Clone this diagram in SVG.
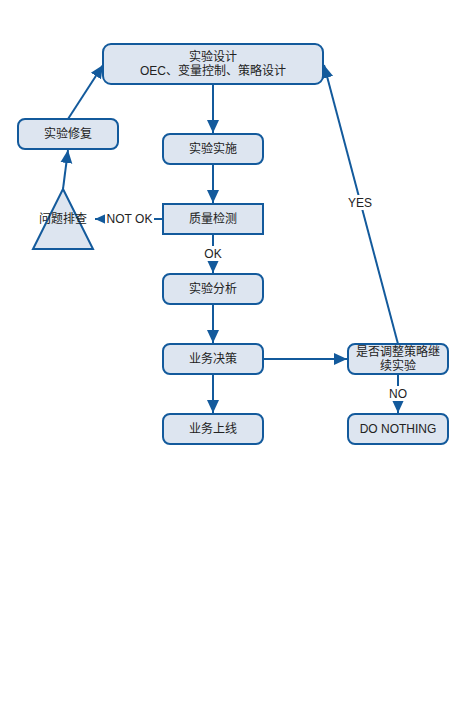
<svg xmlns="http://www.w3.org/2000/svg" width="468" height="720" viewBox="0 0 468 720">
<style>
.n{fill:#dde5f0;stroke:#135a9c;stroke-width:2}
.t{font-family:"Liberation Sans","Noto Sans CJK SC",sans-serif;font-size:12px;fill:#222;text-anchor:middle}
.c{stroke:#135a9c;stroke-width:2;fill:none}
.lb{fill:#fff}
</style>
<defs>
<marker id="a" markerUnits="userSpaceOnUse" markerWidth="14" markerHeight="14" viewBox="0 0 14 14" refX="13" refY="7" orient="auto">
<path d="M0,1 L13,7 L0,13 Z" fill="#135a9c"/>
</marker>
</defs>
<rect width="468" height="720" fill="#fff"/>
<g id="connectors">
<line class="c" x1="213" y1="84" x2="213" y2="133" marker-end="url(#a)"/>
<line class="c" x1="213" y1="164" x2="213" y2="203" marker-end="url(#a)"/>
<line class="c" x1="213" y1="234" x2="213" y2="273" marker-end="url(#a)"/>
<line class="c" x1="213" y1="304" x2="213" y2="343" marker-end="url(#a)"/>
<line class="c" x1="213" y1="374" x2="213" y2="413" marker-end="url(#a)"/>
<line class="c" x1="263" y1="359" x2="347" y2="359" marker-end="url(#a)"/>
<line class="c" x1="398" y1="374" x2="398" y2="413" marker-end="url(#a)"/>
<line class="c" x1="398" y1="344" x2="324" y2="65" marker-end="url(#a)"/>
<line class="c" x1="163" y1="219" x2="95" y2="219" marker-end="url(#a)"/>
<line class="c" x1="63" y1="189" x2="68" y2="150" marker-end="url(#a)"/>
<line class="c" x1="68" y1="119" x2="103" y2="65" marker-end="url(#a)"/>
<rect class="lb" x="201" y="246" width="24" height="15"/>
<text class="t" x="213" y="258">OK</text>
<rect class="lb" x="386" y="386" width="24" height="15"/>
<text class="t" x="398" y="398">NO</text>
<rect class="lb" x="346" y="195" width="28" height="15"/>
<text class="t" x="360" y="207">YES</text>
<rect class="lb" x="105" y="211" width="49" height="15"/>
<text class="t" x="129.500" y="223">NOT OK</text>
</g>
<g id="design"><rect class="n" x="103" y="44" width="220" height="40" rx="8"/><text class="t" x="213" y="61">实验设计</text><text class="t" x="213" y="75">OEC、变量控制、策略设计</text></g>
<g id="repair"><rect class="n" x="18" y="119" width="100" height="30" rx="7"/><text class="t" x="68" y="138">实验修复</text></g>
<g id="implement"><rect class="n" x="163" y="134" width="100" height="30" rx="7"/><text class="t" x="213" y="153">实验实施</text></g>
<g id="quality"><rect class="n" x="163" y="204" width="100" height="30"/><text class="t" x="213" y="223">质量检测</text></g>
<g id="troubleshoot"><polygon class="n" points="63,189 93,249 33,249"/><text class="t" x="63" y="223">问题排查</text></g>
<g id="analysis"><rect class="n" x="163" y="274" width="100" height="30" rx="7"/><text class="t" x="213" y="293">实验分析</text></g>
<g id="decision"><rect class="n" x="163" y="344" width="100" height="30" rx="7"/><text class="t" x="213" y="363">业务决策</text></g>
<g id="launch"><rect class="n" x="163" y="414" width="100" height="30" rx="7"/><text class="t" x="213" y="433">业务上线</text></g>
<g id="adjust"><rect class="n" x="348" y="344" width="100" height="30" rx="7"/><text class="t" x="398" y="356">是否调整策略继</text><text class="t" x="398" y="370">续实验</text></g>
<g id="nothing"><rect class="n" x="348" y="414" width="100" height="30" rx="7"/><text class="t" x="398" y="433">DO NOTHING</text></g>
</svg>
